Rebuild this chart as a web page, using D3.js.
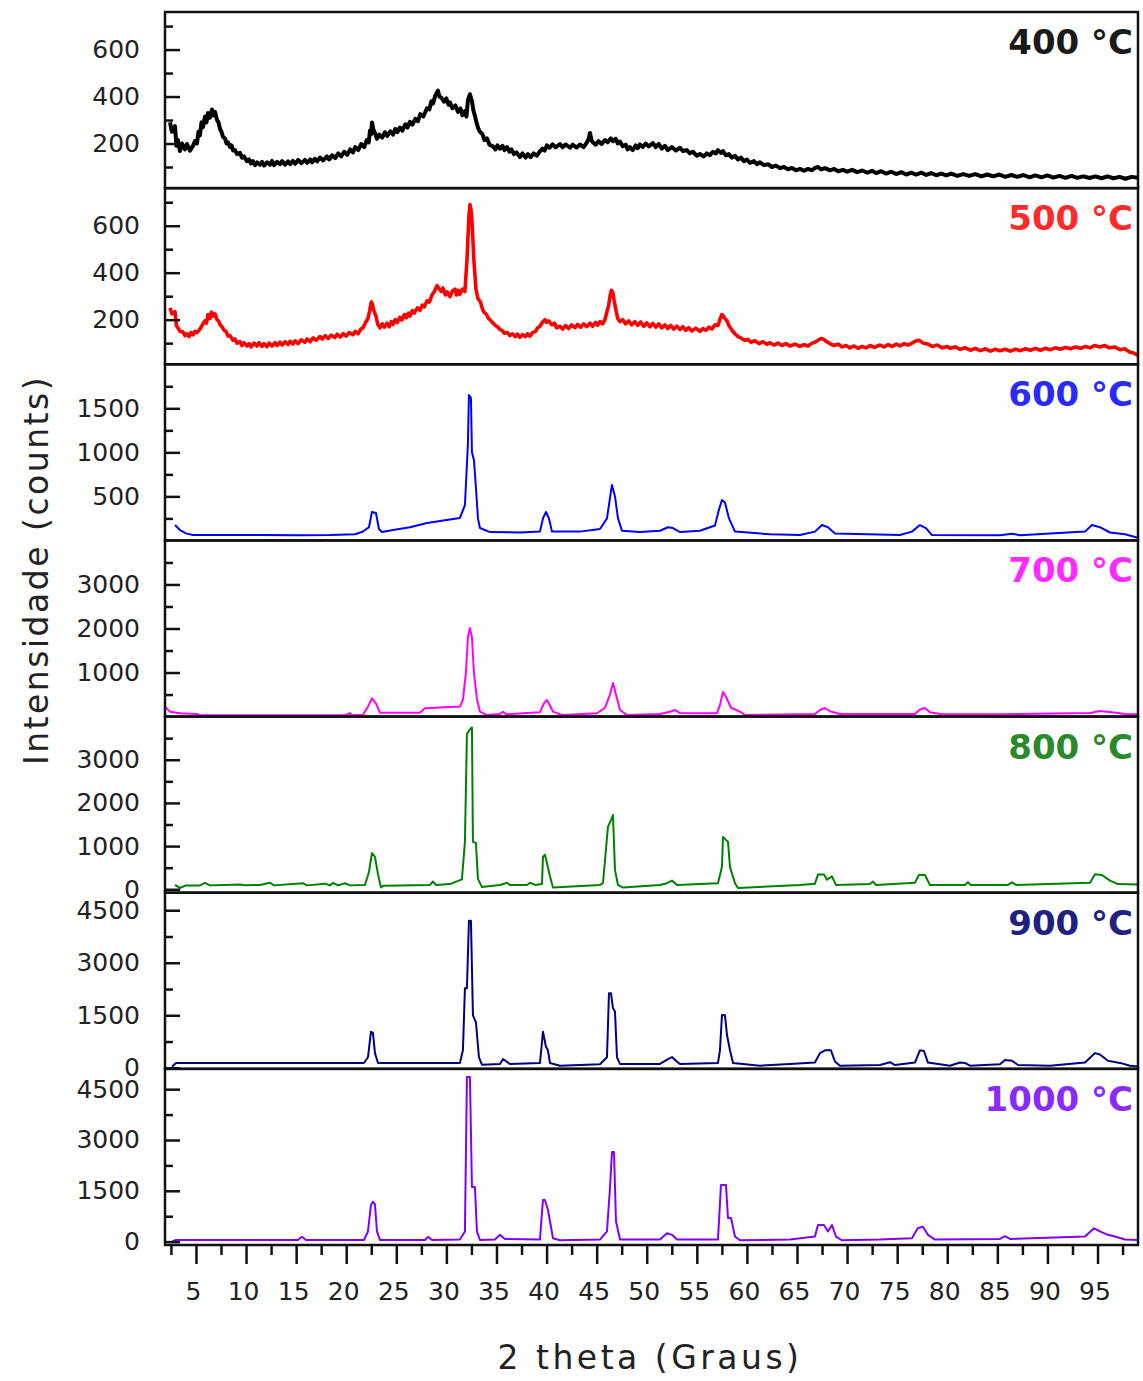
<!DOCTYPE html>
<html><head><meta charset="utf-8">
<script src="https://cdn.jsdelivr.net/npm/d3@7"></script>
<style>body{margin:0;background:#fff}svg{display:block}</style>
</head><body>
<script>
// ---------------- DATA ----------------
const panelLabels = ["400 °C","500 °C","600 °C","700 °C","800 °C","900 °C","1000 °C"];
const lineColors  = ["#000000","#ff0000","#0000ff","#ff00ff","#008000","#000080","#8000ff"];
const labelColors = ["#1a1a1a","#ff2a2a","#2a2aff","#ff2aff","#2a8a2a","#202080","#8a2aff"];
const xTickLabels = [5,10,15,20,25,30,35,40,45,50,55,60,65,70,75,80,85,90,95];
const xMinorTicks = [2.5,7.5,12.5,17.5,22.5,27.5,32.5,37.5,42.5,47.5,52.5,57.5,62.5,67.5,72.5,77.5,82.5,87.5,92.5,97.5];
const xDomain = [1.91, 99.04];

const yDomains = [[10,760],[10,760],[0,2000],[0,4000],[-80,4000],[-30,5000],[-100,5100]];
const yMajorTicks = [[200,400,600],[200,400,600],[500,1000,1500],[1000,2000,3000],[0,1000,2000,3000],[0,1500,3000,4500],[0,1500,3000,4500]];
const yMinorTicks = [[100,300,500,700],[100,300,500,700],[250,750,1250,1750],[500,1500,2500,3500],[500,1500,2500,3500],[750,2250,3750],[750,2250,3750]];

const s400 = [[2.41,290],[2.6,250],[2.91,274],[3.05,190],[3.2,215],[3.4,168],[3.6,200],[3.9,175],[4.1,198],[4.4,170],[4.7,190],[4.9,210],[5.1,200],[5.25,250],[5.4,235],[5.55,290],[5.7,270],[5.9,315],[6.05,290],[6.2,330],[6.4,310],[6.6,345],[6.75,320],[6.9,335],[7.1,300],[7.25,290],[7.4,262],[7.55,250],[7.7,228],[7.9,222],[8.05,200],[8.2,205],[8.4,185],[8.55,192],[8.7,170],[8.9,172],[9.1,155],[9.39,160],[9.6,140],[9.8,145],[10.09,125],[10.3,132],[10.5,115],[10.69,125],[10.9,108],[11.1,120],[11.39,110],[11.6,122],[11.8,106],[12.1,120],[12.39,110],[12.6,126],[12.8,108],[13.1,122],[13.39,112],[13.6,125],[13.9,110],[14.2,124],[14.4,112],[14.68,126],[14.9,114],[15.2,130],[15.5,116],[15.88,130],[16.1,118],[16.4,132],[16.6,120],[16.88,135],[17.1,124],[17.4,140],[17.7,128],[18.08,145],[18.3,132],[18.6,150],[18.9,138],[19.2,158],[19.5,145],[19.8,165],[20.1,152],[20.4,175],[20.67,162],[20.9,185],[21.2,172],[21.5,198],[21.8,185],[22.07,215],[22.25,205],[22.37,255],[22.5,240],[22.57,290],[22.7,262],[22.87,245],[23.07,220],[23.3,238],[23.6,225],[23.87,248],[24.1,232],[24.4,252],[24.67,238],[24.9,262],[25.1,248],[25.36,268],[25.6,255],[25.9,282],[26.1,268],[26.36,292],[26.6,280],[26.9,305],[27.16,295],[27.4,325],[27.7,315],[28.06,350],[28.3,345],[28.5,380],[28.66,370],[28.9,405],[29.16,425],[29.3,400],[29.5,395],[29.76,378],[30.0,392],[30.2,365],[30.36,375],[30.6,350],[30.9,362],[31.15,335],[31.4,350],[31.6,320],[31.85,338],[32.0,315],[32.15,385],[32.35,410],[32.55,380],[32.7,340],[32.85,318],[33.0,290],[33.2,262],[33.35,250],[33.6,240],[33.8,215],[34.05,222],[34.3,195],[34.65,188],[34.9,175],[35.1,192],[35.35,178],[35.6,190],[35.8,172],[36.05,185],[36.3,165],[36.5,175],[36.74,155],[37.0,162],[37.34,142],[37.6,158],[37.9,140],[38.14,155],[38.4,142],[38.7,158],[39.04,148],[39.3,165],[39.6,178],[39.8,170],[40.04,192],[40.3,182],[40.6,196],[40.9,184],[41.34,198],[41.6,184],[41.9,196],[42.34,182],[42.6,195],[43.0,183],[43.33,196],[43.7,185],[44.03,205],[44.2,218],[44.33,245],[44.5,212],[44.63,205],[44.9,195],[45.2,210],[45.5,198],[45.83,215],[46.1,205],[46.4,222],[46.63,210],[46.9,220],[47.1,200],[47.33,208],[47.6,188],[47.9,195],[48.1,175],[48.32,185],[48.6,172],[48.9,192],[49.1,180],[49.32,196],[49.6,185],[49.9,200],[50.2,188],[50.62,202],[50.9,185],[51.2,198],[51.5,178],[51.82,190],[52.1,172],[52.5,185],[52.9,170],[53.32,182],[53.6,168],[54.0,172],[54.31,158],[54.6,165],[55.01,148],[55.3,155],[55.7,145],[56.0,158],[56.31,150],[56.6,165],[56.9,158],[57.11,172],[57.4,160],[57.61,168],[57.9,150],[58.2,155],[58.5,140],[58.81,148],[59.1,132],[59.4,140],[59.7,125],[60.0,132],[60.3,118],[60.7,125],[61.0,112],[61.3,120],[61.7,108],[62.1,112],[62.5,100],[62.9,106],[63.3,95],[63.7,100],[64.1,90],[64.5,96],[64.9,86],[65.29,92],[65.7,84],[66.1,92],[66.5,86],[66.8,96],[67.09,100],[67.4,90],[67.8,95],[68.29,86],[68.7,92],[69.1,82],[69.6,88],[70.0,80],[70.5,88],[71.0,78],[71.5,85],[72.0,76],[72.5,84],[72.9,74],[73.4,82],[73.9,72],[74.4,80],[74.9,70],[75.4,78],[75.9,68],[76.4,76],[76.9,68],[77.4,76],[77.9,66],[78.4,74],[78.9,65],[79.4,72],[79.9,64],[80.4,72],[81.0,62],[81.6,70],[82.2,62],[82.8,70],[83.4,60],[84.0,68],[84.6,60],[85.2,68],[85.8,58],[86.4,66],[87.0,58],[87.6,66],[88.2,56],[88.8,64],[89.4,56],[90.0,64],[90.6,55],[91.2,62],[91.8,54],[92.4,62],[93.0,54],[93.6,60],[94.2,53],[94.8,60],[95.4,52],[96.0,60],[96.6,52],[97.2,58],[97.8,50],[98.4,58],[99.04,54]];

const s500 = [[2.41,250],[2.6,225],[2.91,234],[3.05,175],[3.2,165],[3.4,150],[3.7,148],[3.9,132],[4.1,140],[4.3,128],[4.5,145],[4.7,135],[4.9,150],[5.1,145],[5.4,160],[5.6,175],[5.9,195],[6.05,185],[6.2,222],[6.4,205],[6.55,232],[6.7,215],[6.9,225],[7.1,200],[7.25,195],[7.4,180],[7.6,170],[7.8,155],[8.0,150],[8.2,130],[8.4,132],[8.7,112],[8.9,118],[9.1,100],[9.39,106],[9.6,90],[9.8,102],[10.09,88],[10.3,98],[10.5,84],[10.8,100],[11.09,88],[11.3,102],[11.6,86],[11.8,98],[12.09,85],[12.3,100],[12.6,88],[12.9,102],[13.1,90],[13.39,104],[13.6,92],[13.9,106],[14.2,94],[14.4,108],[14.68,96],[14.9,110],[15.2,98],[15.5,114],[15.88,104],[16.1,118],[16.4,106],[16.7,122],[17.0,112],[17.38,128],[17.6,118],[17.9,132],[18.2,120],[18.5,134],[18.88,124],[19.1,138],[19.4,126],[19.7,140],[20.0,130],[20.3,145],[20.67,136],[20.9,150],[21.2,140],[21.45,160],[21.67,165],[21.9,185],[22.17,205],[22.35,240],[22.5,275],[22.6,268],[22.75,240],[22.97,215],[23.15,180],[23.37,165],[23.6,182],[23.8,168],[24.07,185],[24.3,170],[24.5,192],[24.67,180],[24.9,200],[25.1,188],[25.35,210],[25.56,198],[25.8,222],[26.0,208],[26.2,228],[26.36,215],[26.6,238],[26.8,228],[27.1,250],[27.36,240],[27.6,262],[27.8,255],[28.06,280],[28.3,275],[28.56,305],[28.8,320],[29.06,345],[29.3,330],[29.5,320],[29.66,335],[29.9,305],[30.1,318],[30.36,298],[30.6,322],[30.86,330],[31.0,305],[31.2,325],[31.35,308],[31.6,330],[31.85,320],[32.05,450],[32.25,640],[32.35,690],[32.45,670],[32.55,620],[32.75,450],[32.95,330],[33.15,290],[33.4,275],[33.6,245],[33.75,232],[34.0,222],[34.2,205],[34.35,200],[34.6,188],[34.9,175],[35.1,170],[35.35,158],[35.6,152],[35.8,142],[36.1,145],[36.34,132],[36.6,140],[36.9,128],[37.1,138],[37.34,125],[37.6,136],[37.9,128],[38.1,140],[38.34,130],[38.6,145],[38.9,150],[39.1,165],[39.34,172],[39.6,190],[39.84,200],[40.0,188],[40.2,195],[40.54,178],[40.8,185],[41.0,165],[41.34,172],[41.6,160],[41.9,175],[42.2,162],[42.5,178],[42.84,166],[43.1,180],[43.4,168],[43.7,182],[44.0,170],[44.33,185],[44.6,172],[44.9,188],[45.1,176],[45.33,192],[45.6,182],[45.83,200],[46.0,230],[46.2,260],[46.33,300],[46.48,325],[46.63,312],[46.75,280],[46.93,240],[47.1,205],[47.33,192],[47.6,200],[47.9,182],[48.2,195],[48.5,178],[48.82,192],[49.1,176],[49.4,190],[49.7,172],[50.0,186],[50.32,170],[50.6,184],[50.9,168],[51.2,182],[51.5,165],[51.82,178],[52.1,162],[52.4,176],[52.7,160],[53.0,172],[53.32,158],[53.6,170],[53.9,154],[54.2,166],[54.5,152],[54.9,164],[55.31,150],[55.6,162],[55.9,155],[56.2,168],[56.51,160],[56.8,178],[57.11,175],[57.3,200],[57.5,222],[57.61,218],[57.8,205],[58.01,195],[58.2,175],[58.51,155],[58.8,140],[59.11,128],[59.4,122],[59.8,112],[60.1,116],[60.4,104],[60.8,110],[61.2,98],[61.6,106],[62.0,95],[62.3,102],[62.7,92],[63.1,100],[63.5,90],[63.9,98],[64.3,88],[64.8,96],[65.29,86],[65.7,94],[66.1,88],[66.5,100],[66.79,104],[67.1,112],[67.4,120],[67.59,118],[67.9,108],[68.29,98],[68.7,90],[69.1,96],[69.5,84],[69.9,90],[70.28,80],[70.7,88],[71.1,78],[71.5,86],[71.9,80],[72.3,90],[72.7,82],[73.28,92],[73.7,84],[74.1,94],[74.5,86],[74.9,96],[75.3,88],[75.7,98],[76.1,92],[76.47,100],[76.8,108],[77.1,112],[77.27,110],[77.6,100],[78.07,96],[78.5,86],[79.0,92],[79.5,80],[80.0,86],[80.27,78],[80.8,84],[81.3,74],[81.8,80],[82.3,70],[82.8,78],[83.3,68],[83.8,76],[84.3,66],[84.8,74],[85.26,68],[85.8,74],[86.3,66],[86.8,74],[87.3,68],[87.8,76],[88.3,70],[88.8,78],[89.3,70],[89.8,78],[90.25,72],[90.8,80],[91.3,74],[91.8,82],[92.3,76],[92.8,84],[93.3,78],[93.8,86],[94.25,80],[94.7,90],[95.24,84],[95.7,90],[96.2,80],[96.7,84],[97.24,72],[97.7,76],[98.2,62],[98.6,58],[99.04,48]];

const s600 = [[2.91,175],[3.40,118],[4.00,80],[4.70,61],[11.39,61],[15.38,60],[18.38,62],[20.87,70],[21.57,95],[22.27,150],[22.57,323],[22.97,311],[23.27,130],[23.57,95],[24.67,118],[26.36,150],[28.06,198],[29.86,230],[31.35,255],[31.85,400],[32.15,1100],[32.25,1650],[32.45,1620],[32.55,1000],[32.75,914],[32.95,600],[33.15,250],[33.35,141],[34.35,95],[37.34,90],[39.34,100],[39.64,250],[39.94,323],[40.24,250],[40.54,100],[43.33,100],[45.33,130],[46.03,250],[46.33,480],[46.53,630],[46.83,500],[47.13,250],[47.53,110],[49.32,95],[51.32,110],[52.12,150],[52.62,140],[53.32,95],[55.31,110],[56.81,170],[57.21,350],[57.51,459],[57.81,430],[58.21,250],[58.81,100],[62.30,70],[65.29,61],[66.79,100],[67.49,175],[68.09,150],[68.79,80],[75.28,61],[76.47,100],[77.27,175],[77.87,140],[78.47,61],[85.26,60],[86.46,75],[87.26,60],[93.75,100],[94.45,175],[95.24,150],[96.24,90],[97.74,70],[99.04,30]];

const s700 = [[1.91,225],[2.41,111],[3.40,75],[5.10,60],[5.40,30],[11.39,30],[19.88,30],[20.38,80],[20.58,30],[21.67,40],[22.17,225],[22.57,415],[22.97,300],[23.37,89],[27.36,89],[27.86,188],[30.86,225],[31.35,225],[31.65,380],[31.95,1000],[32.15,1800],[32.35,2011],[32.55,1800],[32.75,1000],[33.05,400],[33.35,111],[34.05,35],[35.35,60],[35.65,110],[35.95,50],[38.04,80],[39.34,100],[39.74,300],[40.04,377],[40.34,250],[40.64,111],[41.54,35],[45.03,75],[45.83,200],[46.33,500],[46.63,763],[46.93,500],[47.33,150],[48.02,35],[51.32,60],[52.32,110],[52.82,150],[53.32,80],[54.31,75],[57.01,75],[57.31,260],[57.61,558],[57.91,450],[58.41,200],[59.30,111],[59.80,35],[66.79,60],[67.29,150],[67.79,195],[68.29,120],[69.28,60],[76.77,60],[77.27,160],[77.77,195],[78.27,100],[79.27,60],[85.26,55],[94.25,80],[95.24,127],[96.44,100],[97.74,60],[99.04,50]];

const s800 = [[2.91,100],[3.40,30],[4.00,90],[5.40,90],[5.90,150],[6.40,90],[7.90,100],[9.39,110],[9.89,95],[11.39,100],[12.39,150],[12.79,90],[15.68,140],[16.08,90],[17.88,130],[18.38,90],[18.68,150],[19.18,90],[19.88,140],[20.38,90],[21.87,100],[22.27,400],[22.57,840],[22.87,750],[23.17,350],[23.47,40],[23.67,80],[28.36,100],[28.66,180],[28.96,100],[30.36,120],[31.55,230],[31.85,1100],[32.05,3600],[32.35,3700],[32.55,3750],[32.65,1097],[32.95,1075],[33.15,240],[33.55,50],[35.35,100],[36.05,150],[36.34,100],[38.04,100],[38.34,150],[38.84,100],[39.54,120],[39.64,749],[39.84,800],[40.04,610],[40.34,300],[40.64,40],[45.33,100],[45.63,140],[46.13,1450],[46.43,1600],[46.63,1720],[46.83,448],[47.13,100],[47.63,40],[51.32,100],[52.02,140],[52.52,200],[53.02,100],[57.11,140],[57.51,519],[57.61,1213],[57.91,1144],[58.11,1100],[58.31,519],[58.81,140],[59.11,30],[65.29,100],[66.79,130],[67.09,340],[67.69,340],[67.99,220],[68.49,300],[68.89,100],[72.28,120],[72.58,180],[72.88,100],[76.77,150],[77.17,330],[77.77,330],[78.27,100],[81.76,100],[82.06,160],[82.36,100],[86.06,100],[86.46,160],[86.86,100],[94.25,150],[94.75,350],[95.44,330],[96.24,200],[97.04,120],[99.04,110]];

const s900 = [[2.61,30],[3.00,136],[15.38,136],[21.77,136],[22.17,300],[22.47,1029],[22.67,1000],[22.87,420],[23.17,136],[31.35,136],[31.65,500],[31.85,2270],[32.05,2270],[32.25,4200],[32.45,4200],[32.65,1500],[32.95,1300],[33.25,300],[33.55,90],[35.35,110],[35.65,250],[36.34,110],[39.34,136],[39.64,1029],[39.94,600],[40.14,500],[40.34,136],[41.34,60],[45.33,100],[46.03,300],[46.23,2130],[46.43,2130],[46.63,1706],[46.83,1600],[47.03,300],[47.33,110],[51.32,110],[52.12,250],[52.52,306],[52.92,200],[53.32,110],[57.11,136],[57.31,500],[57.51,1507],[57.81,1500],[58.01,935],[58.31,500],[58.61,136],[61.30,60],[64.29,110],[66.79,150],[67.29,420],[67.79,500],[68.39,500],[68.79,180],[69.28,60],[73.28,80],[74.28,160],[74.78,80],[76.77,150],[77.27,500],[77.67,480],[78.07,150],[80.27,60],[81.26,150],[81.76,140],[82.26,60],[85.26,100],[85.76,220],[86.46,200],[87.06,80],[90.25,60],[93.75,150],[94.75,420],[95.24,380],[96.04,200],[97.24,140],[98.24,60],[99.04,40]];

const s1000 = [[2.61,0],[3.00,48],[15.18,48],[15.58,145],[15.98,48],[21.77,48],[22.17,300],[22.47,1080],[22.67,1178],[22.87,1100],[23.07,300],[23.37,48],[27.86,48],[28.16,140],[28.56,48],[31.35,60],[31.85,300],[32.05,4860],[32.35,4860],[32.55,1612],[32.85,1612],[33.05,300],[33.35,48],[34.85,60],[35.35,200],[35.85,80],[39.34,60],[39.64,1228],[39.84,1228],[40.14,933],[40.34,600],[40.64,100],[41.34,40],[45.33,60],[46.03,300],[46.33,1582],[46.53,2645],[46.73,2645],[46.93,600],[47.33,60],[51.32,60],[52.02,250],[52.52,200],[53.02,60],[57.11,60],[57.41,1671],[57.91,1671],[58.11,697],[58.41,697],[58.81,150],[59.30,40],[64.29,60],[66.79,150],[67.09,490],[67.69,490],[68.09,300],[68.49,490],[68.89,150],[69.48,40],[73.28,60],[76.47,100],[77.07,400],[77.57,440],[78.07,200],[78.77,60],[85.26,80],[85.76,160],[86.26,80],[93.75,150],[94.65,393],[95.24,300],[96.04,200],[96.74,150],[97.74,60],[99.04,48]];

const seriesList = [s400,s500,s600,s700,s800,s900,s1000];
const lineWidths = [4,3.6,2,2,2,2,2];

// ---------------- DRAW ----------------
const W=1143,H=1381;
const L=165,R=1138,T=12,B=1245;
const n=seriesList.length, ph=(B-T)/n;
const FONT="'DejaVu Sans', Verdana, sans-serif";
const svg=d3.select("body").append("svg").attr("width",W).attr("height",H);
const defs=svg.append("defs");
const x=d3.scaleLinear().domain(xDomain).range([L,R]);
const fmt=d3.format("d");

seriesList.forEach((data,i)=>{
  const y0=T+i*ph, y1=y0+ph;
  const y=d3.scaleLinear().domain(yDomains[i]).range([y1,y0]);
  const cid="clip"+i;
  defs.append("clipPath").attr("id",cid).append("rect")
    .attr("x",L).attr("y",y0).attr("width",R-L).attr("height",ph);
  svg.append("path").datum(data)
    .attr("clip-path",`url(#${cid})`)
    .attr("fill","none").attr("stroke",lineColors[i])
    .attr("stroke-width",lineWidths[i]).attr("stroke-linejoin","round")
    .attr("d",d3.line().x(d=>x(d[0])).y(d=>y(d[1])));

  const gMin=svg.append("g").attr("transform",`translate(${L},0)`)
    .call(d3.axisLeft(y).tickValues(yMinorTicks[i]).tickSize(-8).tickFormat(""));
  const gMaj=svg.append("g").attr("transform",`translate(${L},0)`)
    .call(d3.axisLeft(y).tickValues(yMajorTicks[i]).tickSize(-15).tickPadding(25).tickFormat(fmt));
  [gMin,gMaj].forEach(g=>{
    g.select(".domain").remove();
    g.selectAll(".tick line").attr("stroke","#111").attr("stroke-width",2.5);
  });
  gMaj.selectAll(".tick text").attr("font-family",FONT).attr("font-size",25).attr("fill","#222");

  svg.append("rect").attr("x",L).attr("y",y0).attr("width",R-L).attr("height",ph)
    .attr("fill","none").attr("stroke","#111").attr("stroke-width",2.5);

  svg.append("text").attr("x",1133).attr("y",y0+42).attr("text-anchor","end")
    .attr("font-family",FONT).attr("font-weight","bold").attr("font-size",34)
    .attr("fill",labelColors[i]).text(panelLabels[i]);
});

// x axis on bottom panel
const gxMin=svg.append("g").attr("transform",`translate(0,${B})`)
  .call(d3.axisBottom(x).tickValues(xMinorTicks).tickSize(10).tickFormat(""));
const gxMaj=svg.append("g").attr("transform",`translate(0,${B})`)
  .call(d3.axisBottom(x).tickValues(xTickLabels).tickSize(19).tickPadding(18).tickFormat(fmt));
[gxMin,gxMaj].forEach(g=>{
  g.select(".domain").remove();
  g.selectAll(".tick line").attr("stroke","#111").attr("stroke-width",2.5);
});
gxMaj.selectAll(".tick text").attr("font-family",FONT).attr("font-size",25)
  .attr("fill","#222").attr("dx",-3);

// axis titles
svg.append("text").attr("transform","translate(48,570) rotate(-90)")
  .attr("text-anchor","middle").attr("font-family",FONT).attr("font-size",33)
  .attr("letter-spacing",2.5).attr("fill","#222").text("Intensidade (counts)");
svg.append("text").attr("x",650).attr("y",1369)
  .attr("text-anchor","middle").attr("font-family",FONT).attr("font-size",33)
  .attr("letter-spacing",3.5).attr("fill","#222").text("2 theta (Graus)");
</script>
</body></html>
